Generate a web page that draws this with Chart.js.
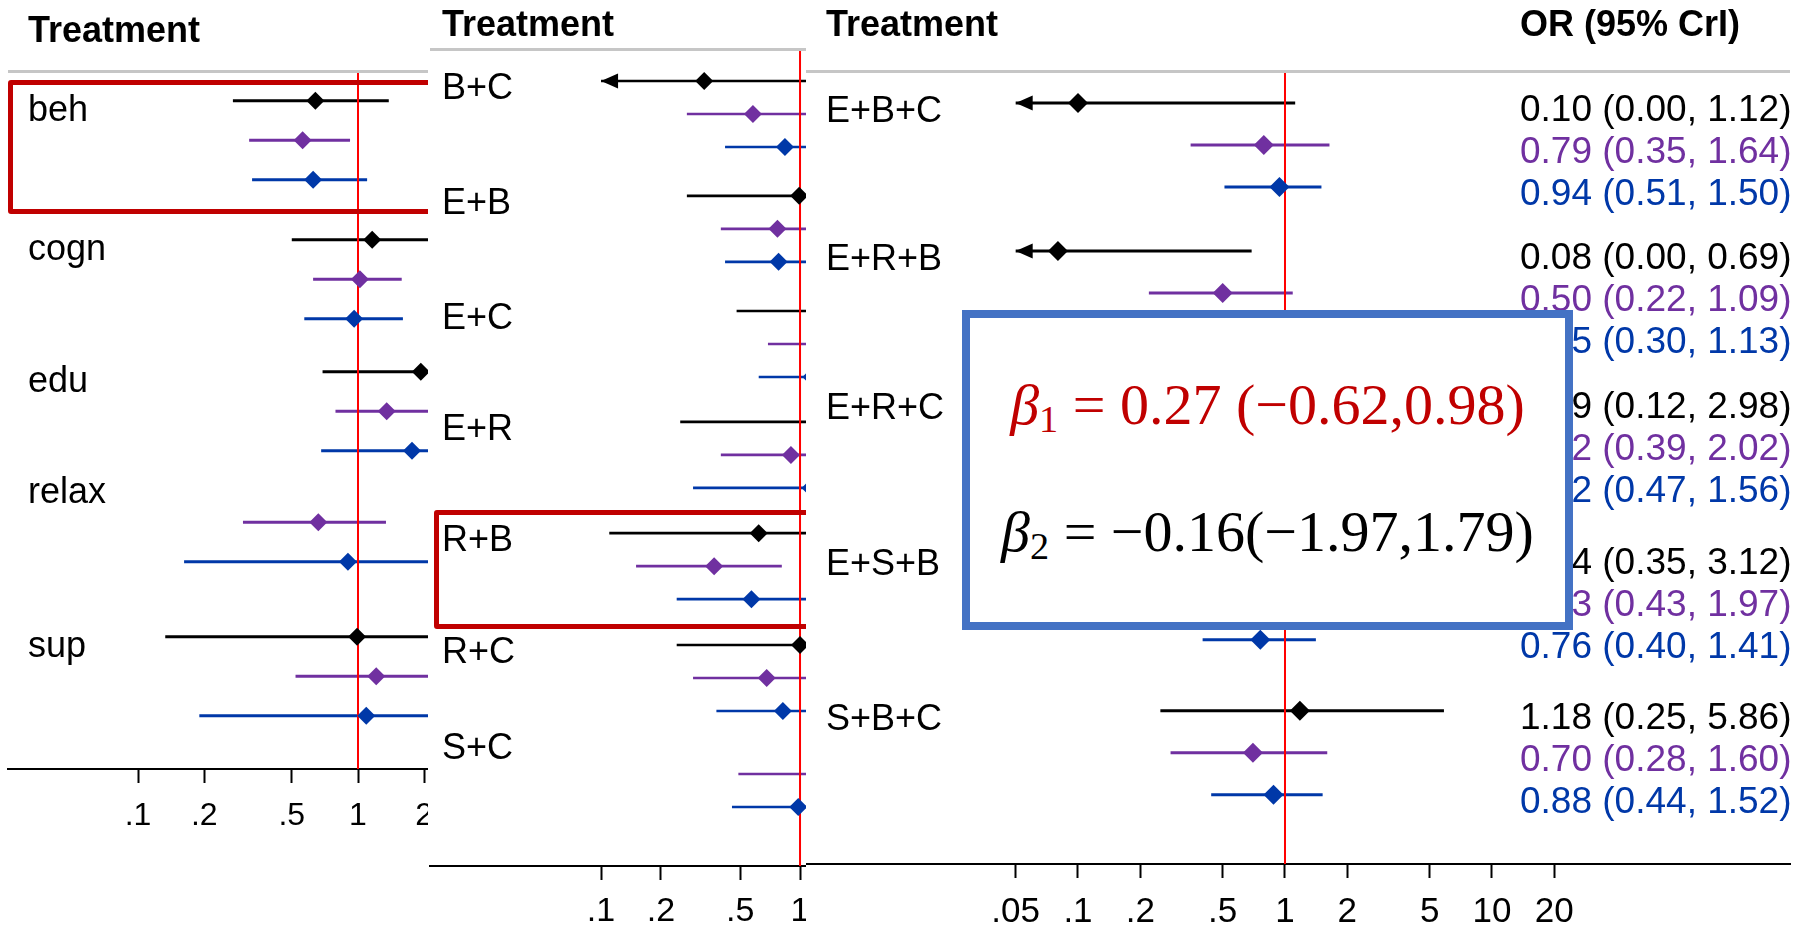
<!DOCTYPE html>
<html><head><meta charset="utf-8">
<script src="https://cdn.jsdelivr.net/npm/chart.js@4.4.0/dist/chart.umd.min.js"></script>
<style>
html,body{margin:0;padding:0;background:#fff;width:1808px;height:927px;overflow:hidden;font-family:"Liberation Sans",Arial,sans-serif;}
.panel{position:absolute;top:0;height:927px;overflow:hidden;background:#fff;}
.panel canvas{position:absolute;left:0;top:0;}
.hdr{position:absolute;font-weight:bold;font-size:36px;line-height:1;white-space:nowrap;color:#000;}
.gray{position:absolute;height:3px;background:#c6c6c6;}
.redbox{position:absolute;border:5px solid #C00000;border-radius:3px;box-sizing:border-box;}
#beta{position:absolute;left:962px;top:310px;width:611px;height:320px;border:8px solid #4472C4;box-sizing:border-box;background:#fff;z-index:10;}
.eq{position:absolute;left:0;right:0;text-align:center;font-family:"Liberation Serif","DejaVu Serif",serif;font-size:58px;line-height:1;white-space:nowrap;}
.eq sub{font-size:0.66em;line-height:0;vertical-align:-0.22em;}
</style></head>
<body>
<div class="panel" id="w1" style="left:0;width:428px;z-index:1;">
  <canvas id="c1" width="700" height="927"></canvas>
  <div class="hdr" style="left:28px;top:12px;">Treatment</div>
  <div class="gray" style="left:8px;top:70px;width:700px;"></div>
  <div class="redbox" style="left:8px;top:80px;width:600px;height:134px;"></div>
</div>
<div class="panel" id="w2" style="left:428px;width:378px;z-index:2;">
  <canvas id="c2" width="700" height="927"></canvas>
  <div class="hdr" style="left:14px;top:6px;">Treatment</div>
  <div class="gray" style="left:2px;top:48px;width:700px;"></div>
  <div class="redbox" style="left:6px;top:510px;width:600px;height:119px;"></div>
</div>
<div class="panel" id="w3" style="left:806px;width:1002px;z-index:3;">
  <canvas id="c3" width="1002" height="927"></canvas>
  <div class="hdr" style="left:20px;top:6px;">Treatment</div>
  <div class="hdr" style="left:714px;top:6px;">OR (95% CrI)</div>
  <div class="gray" style="left:0px;top:70px;width:984px;"></div>
</div>
<div id="beta">
  <div class="eq" style="top:58px;color:#C00000;"><i>β</i><sub>1</sub> = 0.27 (−0.62,0.98)</div>
  <div class="eq" style="top:185px;color:#000;"><i>β</i><sub>2</sub> = −0.16(−1.97,1.79)</div>
</div>
<script>
// ---------------- DATA ----------------
// Panel 1
const P1_TREAT = ['beh','cogn','edu','relax','sup'];
const P1_BLACK_EST  = [0.64, 1.16, 1.93, null, 0.99];
const P1_BLACK_LO   = [0.27, 0.50, 0.69, null, 0.133];
const P1_BLACK_HI   = [1.38, 3.0, 5.0, null, 7.0];
const P1_PURPLE_EST = [0.56, 1.02, 1.35, 0.66, 1.21];
const P1_PURPLE_LO  = [0.32, 0.625, 0.79, 0.30, 0.52];
const P1_PURPLE_HI  = [0.92, 1.58, 2.5, 1.34, 2.8];
const P1_BLUE_EST   = [0.625, 0.96, 1.76, 0.90, 1.09];
const P1_BLUE_LO    = [0.33, 0.57, 0.68, 0.162, 0.19];
const P1_BLUE_HI    = [1.10, 1.60, 4.0, 3.0, 6.0];
const P1_TICKS = [0.1, 0.2, 0.5, 1, 2];
const P1_TICK_LABELS = ['.1', '.2', '.5', '1', '2'];

// Panel 2
const P2_TREAT = ['B+C','E+B','E+C','E+R','R+B','R+C','S+C'];
const P2_BLACK_EST  = [0.33, 0.99, 1.8, 1.5, 0.62, 1.0, null];
const P2_BLACK_LO   = [0.00, 0.27, 0.48, 0.25, 0.11, 0.24, null];
const P2_BLACK_HI   = [2.0, 3.0, 5.0, 6.0, 2.5, 4.0, null];
const P2_PURPLE_EST = [0.58, 0.77, 1.4, 0.90, 0.37, 0.68, 1.3];
const P2_PURPLE_LO  = [0.27, 0.40, 0.69, 0.40, 0.15, 0.29, 0.49];
const P2_PURPLE_HI  = [1.3, 1.5, 2.8, 1.8, 0.81, 1.6, 3.0];
const P2_BLUE_EST   = [0.84, 0.78, 1.14, 1.13, 0.57, 0.82, 0.98];
const P2_BLUE_LO    = [0.42, 0.42, 0.62, 0.29, 0.24, 0.38, 0.455];
const P2_BLUE_HI    = [1.5, 1.5, 2.0, 3.0, 1.4, 1.6, 2.0];
const P2_TICKS = [0.1, 0.2, 0.5, 1];
const P2_TICK_LABELS = ['.1', '.2', '.5', '1'];

// Panel 3
const P3_TREAT = ['E+B+C','E+R+B','E+R+C','E+S+B','S+B+C'];
const P3_BLACK_EST  = [0.10, 0.08, 0.59, 1.04, 1.18];
const P3_BLACK_LO   = [0.00, 0.00, 0.12, 0.35, 0.25];
const P3_BLACK_HI   = [1.12, 0.69, 2.98, 3.12, 5.86];
const P3_PURPLE_EST = [0.79, 0.50, 0.92, 0.93, 0.70];
const P3_PURPLE_LO  = [0.35, 0.22, 0.39, 0.43, 0.28];
const P3_PURPLE_HI  = [1.64, 1.09, 2.02, 1.97, 1.60];
const P3_BLUE_EST   = [0.94, 0.55, 0.82, 0.76, 0.88];
const P3_BLUE_LO    = [0.51, 0.30, 0.47, 0.40, 0.44];
const P3_BLUE_HI    = [1.50, 1.13, 1.56, 1.41, 1.52];
const P3_TICKS = [0.05, 0.1, 0.2, 0.5, 1, 2, 5, 10, 20];
const P3_TICK_LABELS = ['.05', '.1', '.2', '.5', '1', '2', '5', '10', '20'];

// ---------------- STYLE / LAYOUT ----------------
const C_BLACK = '#000000', C_PURPLE = '#7030A0', C_BLUE = '#0038A8';
const FONT = '"Liberation Sans", Arial, sans-serif';
Chart.defaults.font.family = FONT;

const PANELS = [
  { canvas:'c1', treat:P1_TREAT,
    series:[{c:C_BLACK,e:P1_BLACK_EST,l:P1_BLACK_LO,h:P1_BLACK_HI},
            {c:C_PURPLE,e:P1_PURPLE_EST,l:P1_PURPLE_LO,h:P1_PURPLE_HI},
            {c:C_BLUE,e:P1_BLUE_EST,l:P1_BLUE_LO,h:P1_BLUE_HI}],
    ticks:P1_TICKS, tickLabels:P1_TICK_LABELS,
    pad:{top:72,left:8,right:0,bottom:0}, axisH:158, xMin:0.02565, xMax:35.85,
    yMax:17.646, groupRow:[0.73,4.25,7.59,10.4,14.3],
    labelDx:20, baseDy:20, labelFont:36, diam:9, lineW:3, tickFont:32, tickPad:14, arrowAt:0 },
  { canvas:'c2', treat:P2_TREAT,
    series:[{c:C_BLACK,e:P2_BLACK_EST,l:P2_BLACK_LO,h:P2_BLACK_HI},
            {c:C_PURPLE,e:P2_PURPLE_EST,l:P2_PURPLE_LO,h:P2_PURPLE_HI},
            {c:C_BLUE,e:P2_BLUE_EST,l:P2_BLUE_LO,h:P2_BLUE_HI}],
    ticks:P2_TICKS, tickLabels:P2_TICK_LABELS,
    pad:{top:50,left:2,right:0,bottom:0}, axisH:61, xMin:0.01382, xMax:44.48,
    yMax:24.727, groupRow:[0.94,4.42,7.91,11.27,14.64,18.03,20.94],
    labelDx:12, baseDy:18, labelFont:36, diam:9, lineW:2.6, tickFont:34, tickPad:11, arrowAt:0.1 },
  { canvas:'c3', treat:P3_TREAT,
    series:[{c:C_BLACK,e:P3_BLACK_EST,l:P3_BLACK_LO,h:P3_BLACK_HI},
            {c:C_PURPLE,e:P3_PURPLE_EST,l:P3_PURPLE_LO,h:P3_PURPLE_HI},
            {c:C_BLUE,e:P3_BLUE_EST,l:P3_BLUE_LO,h:P3_BLUE_HI}],
    ticks:P3_TICKS, tickLabels:P3_TICK_LABELS,
    pad:{top:72,left:0,right:18,bottom:0}, axisH:63, xMin:0.004853, xMax:275.2,
    yMax:18.857, groupRow:[0.74,4.26,7.81,11.52,15.21],
    labelDx:20, baseDy:19, labelFont:36, diam:10, lineW:3, tickFont:35, tickPad:13, arrowAt:0.05,
    orText:true, orX:714, orFont:37 }
];

function fmt(v){ return v.toFixed(2); }

function makePlugin(P){
  return {
    id:'forestExtras',
    afterDatasetsDraw(chart){
      const ctx = chart.ctx, xs = chart.scales.x, ys = chart.scales.y, a = chart.chartArea;
      ctx.save();
      // arrows for truncated lower bounds
      P.series.forEach((s, si) => {
        s.e.forEach((e, gi) => {
          if (e == null || !(s.l[gi] < P.arrowAt)) return;
          const tipX = xs.getPixelForValue(P.arrowAt);
          const y = ys.getPixelForValue(P.groupRow[gi] + si);
          ctx.fillStyle = s.c;
          ctx.beginPath();
          ctx.moveTo(tipX, y);
          ctx.lineTo(tipX + 17, y - 7.5);
          ctx.lineTo(tipX + 17, y + 7.5);
          ctx.closePath();
          ctx.fill();
        });
      });
      // treatment labels
      ctx.font = P.labelFont + 'px ' + FONT;
      ctx.fillStyle = '#000';
      ctx.textBaseline = 'alphabetic';
      ctx.textAlign = 'left';
      P.treat.forEach((t, gi) => {
        ctx.fillText(t, a.left + P.labelDx, ys.getPixelForValue(P.groupRow[gi]) + P.baseDy);
      });
      // OR (95% CrI) column
      if (P.orText) {
        ctx.font = P.orFont + 'px ' + FONT;
        P.series.forEach((s, si) => {
          ctx.fillStyle = s.c;
          s.e.forEach((e, gi) => {
            if (e == null) return;
            const txt = fmt(e) + ' (' + fmt(s.l[gi]) + ', ' + fmt(s.h[gi]) + ')';
            ctx.fillText(txt, P.orX, ys.getPixelForValue(P.groupRow[gi] + si) + 18);
          });
        });
      }
      ctx.restore();
    }
  };
}

PANELS.forEach(P => {
  const datasets = [];
  P.series.forEach((s, si) => {
    const seg = [], pts = [];
    s.e.forEach((e, gi) => {
      if (e == null) return;
      const y = P.groupRow[gi] + si;
      seg.push({x: Math.max(s.l[gi], P.arrowAt), y: y});
      seg.push({x: s.h[gi], y: y});
      seg.push({x: s.h[gi], y: null});
      pts.push({x: e, y: y});
    });
    datasets.push({ data: seg, showLine: true, spanGaps: false, borderColor: s.c, borderWidth: P.lineW,
                    pointRadius: 0, order: 3 });
    datasets.push({ data: pts, showLine: false, pointStyle: 'rectRot', pointRadius: P.diam,
                    backgroundColor: s.c, borderColor: s.c, borderWidth: 0, order: 1 });
  });
  datasets.push({ data: [{x:1, y:0}, {x:1, y:P.yMax}], showLine: true, borderColor: '#FF0000',
                  borderWidth: 2, pointRadius: 0, order: 2 });

  new Chart(document.getElementById(P.canvas), {
    type: 'scatter',
    data: { datasets },
    plugins: [makePlugin(P)],
    options: {
      responsive: false, maintainAspectRatio: false, animation: false, devicePixelRatio: 1,
      events: [],
      layout: { padding: P.pad, autoPadding: false },
      plugins: { legend: { display: false }, tooltip: { enabled: false } },
      scales: {
        x: {
          type: 'logarithmic', min: P.xMin, max: P.xMax, bounds: 'data',
          afterBuildTicks: sc => { sc.ticks = P.ticks.map(v => ({ value: v })); },
          afterFit: sc => { sc.height = P.axisH; },
          ticks: { autoSkip: false, maxRotation: 0, minRotation: 0, padding: P.tickPad, color: '#000',
                   font: { family: FONT, size: P.tickFont },
                   callback: (v, i) => P.tickLabels[i] },
          grid: { display: true, drawOnChartArea: false, drawTicks: true, tickLength: 14,
                  tickWidth: 2, tickColor: '#000' },
          border: { display: true, color: '#000', width: 2 }
        },
        y: { type: 'linear', display: false, min: 0, max: P.yMax, reverse: true }
      }
    }
  });
});
</script>
</body></html>
